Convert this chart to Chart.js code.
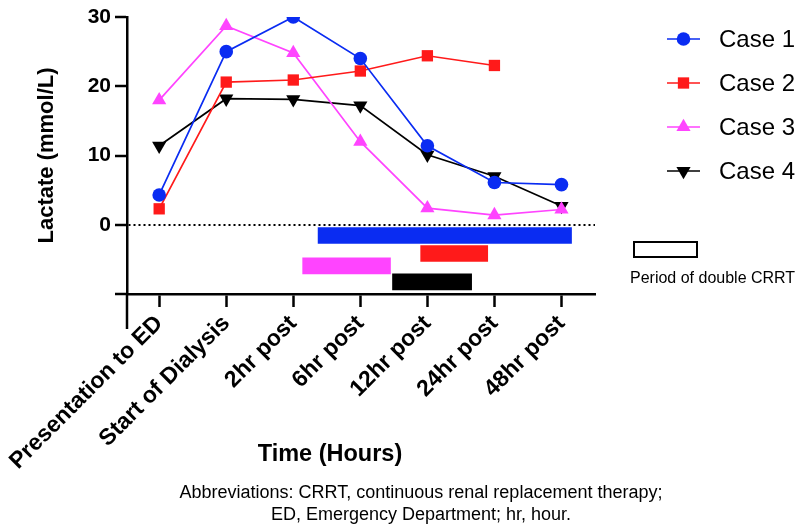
<!DOCTYPE html>
<html>
<head>
<meta charset="utf-8">
<script src="https://cdn.jsdelivr.net/npm/chart.js@4.4.1/dist/chart.umd.min.js"></script>
<style>
  html, body { margin: 0; padding: 0; background: #fff; }
  #wrap { width: 800px; height: 531px; }
</style>
</head>
<body>
<div id="wrap"><canvas id="lactateChart"></canvas></div>
<script>
const timepoints = ['Presentation to ED', 'Start of Dialysis', '2hr post', '6hr post', '12hr post', '24hr post', '48hr post'];
const caseNames = ['Case 1', 'Case 2', 'Case 3', 'Case 4'];
const case1 = [4.3, 25.0, 30.0, 24.0, 11.4, 6.1, 5.8];
const case2 = [2.3, 20.6, 20.9, 22.2, 24.4, 23.0];
const case3 = [18.0, 28.7, 24.8, 12.0, 2.4, 1.4, 2.2];
const case4 = [11.4, 18.2, 18.1, 17.2, 10.1, 7.0, 2.7];
// periods of double CRRT (in timepoint units) and the row they sit on
const crrtStart = [2.37, 3.9, 2.14, 3.48];
const crrtEnd = [6.15, 4.9, 3.45, 4.66];
const crrtRow = [-1.55, -4.15, -5.95, -8.25];
const yTicks = [-10, 0, 10, 20, 30];

const FONT = "'Liberation Sans', Arial, Helvetica, sans-serif";
const colors = ['#0a2cf2', '#ff1a1a', '#ff44ff', '#000000'];
const styles = [
    { pointStyle: 'circle', radius: 6.8, rotation: 0 },
    { pointStyle: 'rect', radius: 8, rotation: 0 },
    { pointStyle: 'triangle', radius: 8.2, rotation: 0 },
    { pointStyle: 'triangle', radius: 8.2, rotation: 180 }
];

const series = [case1, case2, case3, case4];
const lineSets = series.map((vals, k) => ({
    type: 'line',
    label: caseNames[k],
    data: vals.map((v, i) => ({ x: i, y: v })),
    borderColor: colors[k],
    backgroundColor: colors[k],
    borderWidth: 1.7,
    pointStyle: styles[k].pointStyle,
    pointRadius: styles[k].radius,
    pointRotation: styles[k].rotation,
    pointBorderWidth: 0,
    tension: 0,
    order: 1
}));

const barSet = {
    type: 'bar',
    label: 'Period of double CRRT',
    indexAxis: 'y',
    data: crrtStart.map((s, i) => ({ x: [s, crrtEnd[i]], y: crrtRow[i] })),
    backgroundColor: colors,
    borderWidth: 0,
    barThickness: 16,
    order: 2
};

// legend, x title, footnote and the little axis stub under the corner
const extras = {
    id: 'extras',
    afterDraw(chart) {
        const ctx = chart.ctx;
        const area = chart.chartArea;
        ctx.save();

        ctx.strokeStyle = '#000';
        ctx.lineWidth = 2.5;
        ctx.beginPath();
        ctx.moveTo(area.left, area.bottom);
        ctx.lineTo(area.left, area.bottom + 35);
        ctx.stroke();

        // legend
        ctx.font = '24px ' + FONT;
        ctx.textBaseline = 'middle';
        ctx.textAlign = 'left';
        caseNames.forEach((name, k) => {
            const y = 39 + k * 44;
            ctx.strokeStyle = colors[k];
            ctx.fillStyle = colors[k];
            ctx.lineWidth = 1.7;
            ctx.beginPath();
            ctx.moveTo(667, y);
            ctx.lineTo(700, y);
            ctx.stroke();
            Chart.helpers.drawPoint(ctx, {
                pointStyle: styles[k].pointStyle,
                radius: styles[k].radius,
                rotation: styles[k].rotation,
                borderWidth: 0
            }, 683.5, y);
            ctx.fillStyle = '#000';
            ctx.fillText(name, 719, y + 1);
        });

        ctx.strokeStyle = '#000';
        ctx.lineWidth = 2;
        ctx.strokeRect(634, 242, 63, 15);
        ctx.fillStyle = '#000';
        ctx.font = '16px ' + FONT;
        ctx.fillText('Period of double CRRT', 630, 279);

        // x axis title
        ctx.textAlign = 'center';
        ctx.textBaseline = 'alphabetic';
        ctx.font = 'bold 23.5px ' + FONT;
        ctx.fillText('Time (Hours)', 330, 461);

        // footnote
        ctx.font = '18px ' + FONT;
        ctx.fillText('Abbreviations: CRRT, continuous renal replacement therapy;', 421, 498);
        ctx.fillText('ED, Emergency Department; hr, hour.', 421, 520);
        ctx.restore();
    }
};

new Chart(document.getElementById('lactateChart'), {
    type: 'line',
    data: { datasets: [...lineSets, barSet] },
    plugins: [extras],
    options: {
        responsive: true,
        maintainAspectRatio: false,
        animation: false,
        layout: { padding: { top: 17, right: 205, bottom: 0, left: 0 } },
        plugins: {
            legend: { display: false },
            tooltip: { enabled: false }
        },
        scales: {
            x: {
                type: 'linear',
                min: -0.48,
                max: 6.5,
                offset: false,
                afterBuildTicks: (scale) => {
                    scale.ticks = timepoints.map((t, i) => ({ value: i }));
                },
                afterFit: (scale) => { scale.height = 237; },
                ticks: {
                    autoSkip: false,
                    minRotation: 45,
                    maxRotation: 45,
                    padding: 3,
                    color: '#000',
                    font: { family: FONT, size: 23, weight: 'bold' },
                    callback: (v) => timepoints[v]
                },
                grid: {
                    drawOnChartArea: false,
                    offset: false,
                    tickLength: 13,
                    tickWidth: 2.5,
                    tickColor: '#000'
                },
                border: { color: '#000', width: 2.5 }
            },
            y: {
                type: 'linear',
                min: -10,
                max: 30,
                offset: false,
                afterBuildTicks: (scale) => {
                    scale.ticks = yTicks.map(v => ({ value: v }));
                },
                afterFit: (scale) => { scale.width = 127; },
                ticks: {
                    padding: 4,
                    color: '#000',
                    font: { family: FONT, size: 21, weight: 'bold' },
                    callback: (v) => (v < 0 ? '' : v)
                },
                grid: {
                    offset: false,
                    color: (c) => (c.tick && c.tick.value === 0 ? '#000' : 'rgba(0,0,0,0)'),
                    lineWidth: 2,
                    tickLength: 12,
                    tickWidth: 2.5,
                    tickColor: '#000'
                },
                border: { color: '#000', width: 2.5, dash: [2, 3] },
                title: {
                    display: true,
                    text: 'Lactate (mmol/L)',
                    color: '#000',
                    padding: { top: 34, bottom: 0 },
                    font: { family: FONT, size: 22, weight: 'bold' }
                }
            }
        }
    }
});
</script>
</body>
</html>
